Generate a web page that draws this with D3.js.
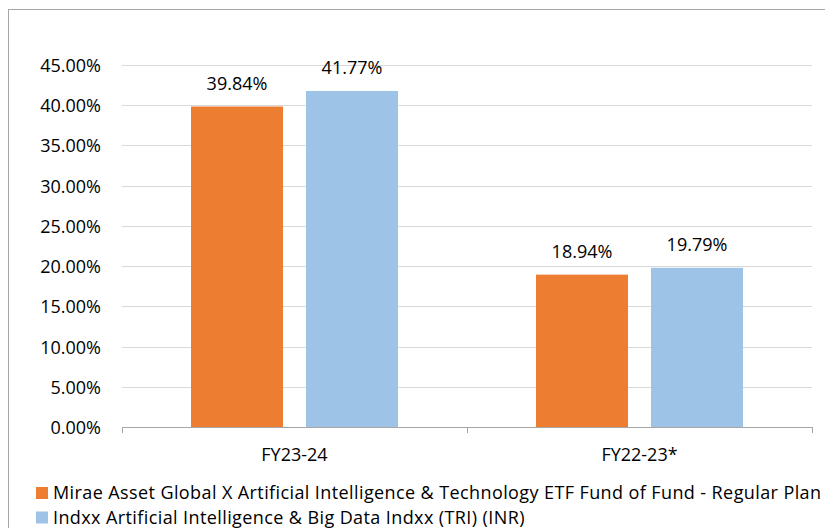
<!DOCTYPE html>
<html>
<head>
<meta charset="utf-8">
<script src="https://cdn.jsdelivr.net/npm/d3@7"></script>
<style>
  body { margin: 0; background: #fff; }
  svg { display: block; font-family: "Open Sans", sans-serif; }
</style>
</head>
<body>
<svg id="chart" width="825" height="528"></svg>
<script>
// data
var categories = ["FY23-24", "FY22-23*"];
var seriesNames = [
  "Mirae Asset Global X Artificial Intelligence & Technology ETF Fund of Fund - Regular Plan",
  "Indxx Artificial Intelligence & Big Data Indxx (TRI) (INR)"
];
var fundValues = [39.84, 18.94];
var indexValues = [41.77, 19.79];
var yTicks = [0, 5, 10, 15, 20, 25, 30, 35, 40, 45];
var colors = ["#ed7d31", "#9dc3e6"];

var svg = d3.select("#chart");

// frame
svg.append("rect")
  .attr("x", 8.5).attr("y", 9.5)
  .attr("width", 830).attr("height", 540)
  .attr("fill", "none")
  .attr("stroke", "#a6a6a6")
  .attr("stroke-width", 1);

var margin = {left: 122, right: 13, top: 65, baseline: 427};

var x0 = d3.scaleBand()
  .domain(categories)
  .range([margin.left, 825 - margin.right]);

var x1 = d3.scaleBand()
  .domain([0, 1])
  .range([0, x0.bandwidth()])
  .paddingInner(0.2)
  .paddingOuter(0.6);

var y = d3.scaleLinear()
  .domain([0, 45])
  .range([margin.baseline, margin.top]);

// gridlines
svg.append("g")
  .selectAll("line")
  .data(yTicks.slice(1))
  .enter().append("line")
    .attr("x1", margin.left)
    .attr("x2", 825 - margin.right)
    .attr("y1", d => Math.round(y(d)) + 0.5)
    .attr("y2", d => Math.round(y(d)) + 0.5)
    .attr("stroke", "#d9d9d9")
    .attr("stroke-width", 1);

// y labels
svg.append("g")
  .selectAll("text")
  .data(yTicks)
  .enter().append("text")
    .attr("x", 101)
    .attr("y", d => y(d) + 7)
    .attr("text-anchor", "end")
    .attr("font-size", 18)
    .attr("fill", "#000")
    .text(d => d.toFixed(2) + "%");

// bars
var rows = categories.map((c, i) => ({cat: c, vals: [fundValues[i], indexValues[i]]}));

var groups = svg.append("g")
  .selectAll("g")
  .data(rows)
  .enter().append("g")
    .attr("transform", d => `translate(${x0(d.cat)},0)`);

groups.selectAll("rect")
  .data(d => d.vals.map((v, j) => ({v: v, j: j})))
  .enter().append("rect")
    .attr("x", d => x1(d.j))
    .attr("width", x1.bandwidth())
    .attr("y", d => y(d.v))
    .attr("height", d => y(0) - y(d.v))
    .attr("fill", d => colors[d.j]);

groups.selectAll("text")
  .data(d => d.vals.map((v, j) => ({v: v, j: j})))
  .enter().append("text")
    .attr("x", d => x1(d.j) + x1.bandwidth() / 2)
    .attr("y", d => y(d.v) - 17)
    .attr("text-anchor", "middle")
    .attr("font-size", 18)
    .attr("fill", "#000")
    .text(d => d.v.toFixed(2) + "%");

// x axis
var xAxis = svg.append("g");
xAxis.append("line")
  .attr("x1", margin.left).attr("x2", 825 - margin.right)
  .attr("y1", margin.baseline + 0.5).attr("y2", margin.baseline + 0.5)
  .attr("stroke", "#a6a6a6");
var tickXs = categories.map(c => x0(c)).concat([x0.range()[1]]);
xAxis.selectAll(".tick")
  .data(tickXs)
  .enter().append("line")
    .attr("x1", d => Math.round(d) + 0.5).attr("x2", d => Math.round(d) + 0.5)
    .attr("y1", margin.baseline).attr("y2", margin.baseline + 6)
    .attr("stroke", "#a6a6a6");
xAxis.selectAll("text")
  .data(categories)
  .enter().append("text")
    .attr("x", d => x0(d) + x0.bandwidth() / 2)
    .attr("y", 461)
    .attr("text-anchor", "middle")
    .attr("font-size", 18)
    .attr("fill", "#000")
    .text(d => d);

// legend
var legend = svg.append("g")
  .selectAll("g")
  .data(seriesNames)
  .enter().append("g")
    .attr("transform", (d, i) => `translate(36,${499 + i * 24.5})`);
legend.append("rect")
  .attr("y", -12)
  .attr("width", 12).attr("height", 12)
  .attr("fill", (d, i) => colors[i]);
legend.append("text")
  .attr("x", 17)
  .attr("y", 0)
  .attr("font-size", 18)
  .attr("letter-spacing", 0.4)
  .attr("fill", "#000")
  .text(d => d);
</script>
</body>
</html>
